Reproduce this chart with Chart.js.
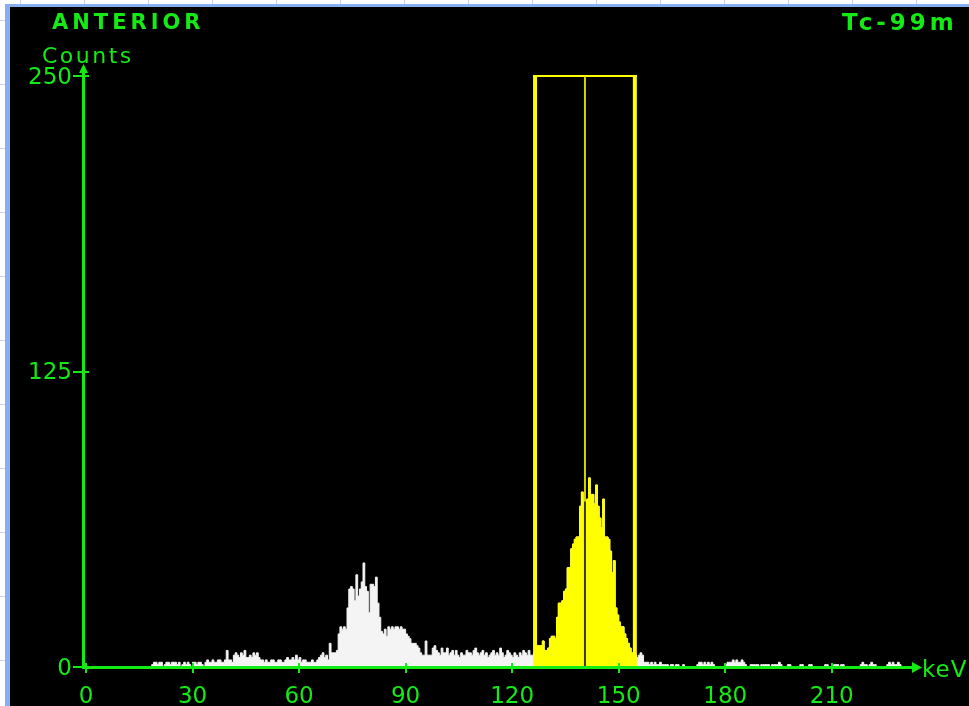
<!DOCTYPE html>
<html>
<head>
<meta charset="utf-8">
<script src="https://cdn.jsdelivr.net/npm/chart.js@4.4.1/dist/chart.umd.min.js"></script>
<style>
  html, body { margin: 0; padding: 0; }
  body {
    width: 969px; height: 706px; overflow: hidden; position: relative;
    background-color: #ffffff;
    background-image:
      repeating-linear-gradient(to right, transparent 0px, transparent 20px, #c6d2ea 20px, #c6d2ea 21px, transparent 21px, transparent 64px),
      repeating-linear-gradient(to bottom, transparent 0px, transparent 20px, #c6d2ea 20px, #c6d2ea 21px, transparent 21px, transparent 64px);
  }
  #panel {
    position: absolute; left: 5px; top: 4px; width: 964px; height: 702px;
    border-left: 5px solid #86aef0; border-top: 3px solid #86aef0;
    background: #000; box-sizing: border-box;
  }
  canvas { position: absolute; left: 10px; top: 7px; }
</style>
</head>
<body>
<div id="panel"></div>
<canvas id="c" width="959" height="699"></canvas>
<script>
// ---------------- data ----------------
const title = "ANTERIOR";
const isotope = "Tc-99m";
const yAxisTitle = "Counts";
const xAxisTitle = "keV";
const xTicks = [0, 30, 60, 90, 120, 150, 180, 210];
const yTicks = [0, 125, 250];
const binStart = 18;      // keV of first channel
const binWidth = 0.5;     // keV per channel
const photopeak = 140.5;  // keV
const windowLow = 126.45; // keV
const windowHigh = 154.55;// keV
// counts per 0.5 keV channel, 18.0 .. 231.5 keV (two per keV)
const counts = [
  0,0, 1,2, 2,1, 2,2, 0,1, 2,2, 1,2, 2,2, 1,2, 0,1,          // 18-27
  2,1, 2,1, 0,2, 2,1, 2,2, 1,0, 2,3, 2,2, 3,2, 2,3,          // 28-37
  3,2, 2,3, 7,3, 3,2, 5,6, 5,4, 6,5, 7,4, 4,5, 4,6,          // 38-47
  5,6, 4,3, 3,2, 3,2, 2,3, 3,2, 2,3, 3,2, 2,3, 4,3,          // 48-57
  3,4, 3,5, 3,4, 2,3, 3,2, 2,2, 3,2, 2,3, 4,5, 6,4,          // 58-67
  5,3, 10,6, 6,6, 7,14, 17,16, 17,16, 25,33, 34,33, 28,39, 30,33, // 68-77
  36,44, 34,32, 23,35, 35,34, 38,27, 21,15, 14,16, 13,17, 16,17, 16,17, // 78-87
  17,16, 17,16, 16,14, 13,12, 10,10, 10,9, 8,6, 5,5, 11,5, 5,5,  // 88-97
  8,9, 7,6, 5,8, 6,6, 8,5, 6,7, 5,7, 5,4, 6,5, 5,7,          // 98-107
  6,6, 5,7, 8,6, 5,6, 7,5, 6,4, 5,6, 7,5, 6,5, 8,6,          // 108-117
  4,5, 7,6, 5,4, 6,5, 4,6, 5,7, 6,5, 7,5, 5,6, 8,9,          // 118-127
  9,9, 11,7, 7,8, 12,13, 13,12, 21,27, 27,28, 32,33, 42,42, 50,52, // 128-137
  54,55, 55,68, 74,70, 70,71, 80,73, 73,69, 77,68, 63,59, 71,55, 55,54, // 138-147
  49,40, 45,25, 22,19, 17,17, 14,12, 10,8, 6,5, 5,4, 5,6, 5,2, // 148-157
  2,2, 1,2, 1,2, 1,1, 2,1, 1,1, 1,0, 1,1, 0,1, 1,0,          // 158-167
  0,1, 0,0, 0,0, 0,0, 0,1, 2,2, 1,2, 1,2, 1,2, 1,0,          // 168-177
  0,0, 0,0, 0,1, 2,2, 2,3, 2,3, 2,2, 3,2, 1,0, 0,1,          // 178-187
  1,1, 1,1, 0,1, 1,1, 1,1, 0,1, 1,1, 1,2, 1,0, 0,0,          // 188-197
  1,1, 0,0, 0,0, 0,1, 1,0, 0,0, 1,1, 0,0, 0,0, 0,0,          // 198-207
  0,1, 1,0, 0,0, 1,1, 1,0, 1,1, 0,0, 0,0, 0,0, 0,0,          // 208-217
  0,1, 2,1, 1,0, 1,2, 1,1, 0,0, 0,0, 0,0, 1,2, 1,2,          // 218-227
  1,1, 2,1, 0,0, 0,0                                         // 228-231
];

// ---------------- build datasets ----------------
const energyOf = i => binStart + i * binWidth;
const countAt = e => counts[Math.floor((e - binStart) / binWidth)] || 0;

const spectrum = counts.map((c, i) => ({ x: energyOf(i), y: c }));
spectrum.push({ x: energyOf(counts.length), y: 0 });

const windowPts = [{ x: windowLow, y: countAt(windowLow) }];
counts.forEach((c, i) => {
  const e = energyOf(i);
  if (e > windowLow && e < windowHigh) windowPts.push({ x: e, y: c });
});
windowPts.push({ x: windowHigh, y: 0 });

const GREEN = '#14ea14';
const YELLOW = '#ffff00';

const overlay = {
  id: 'overlay',
  afterDatasetsDraw(chart) {
    const ctx = chart.ctx;
    const xs = chart.scales.x, ys = chart.scales.y;
    const x0 = xs.getPixelForValue(0);
    const y0 = ys.getPixelForValue(0);
    const yTop = ys.getPixelForValue(yTicks[yTicks.length - 1]);
    ctx.save();
    // energy window
    const xl = xs.getPixelForValue(windowLow), xr = xs.getPixelForValue(windowHigh);
    const xc = xs.getPixelForValue(photopeak);
    const yPk = ys.getPixelForValue(countAt(photopeak));
    ctx.fillStyle = YELLOW;
    ctx.fillRect(xl - 2, yTop - 1, 4, y0 - yTop + 1);
    ctx.fillRect(xr - 2, yTop - 1, 4, y0 - yTop + 1);
    ctx.fillRect(xl - 2, yTop - 1, xr - xl + 4, 2);
    ctx.fillStyle = '#d4d400';
    ctx.fillRect(xc - 1, yTop, 2, yPk - yTop);
    ctx.fillStyle = '#3a3a00';
    ctx.fillRect(xc - 1, yPk, 2, y0 - yPk);

    // axes
    ctx.fillStyle = GREEN;
    const ax = x0 - 3;
    const xEnd = xs.getPixelForValue(xs.max) + 2;
    ctx.fillRect(ax - 1, yTop - 8, 3, y0 - yTop + 10);
    ctx.fillRect(ax - 1, y0 - 1, xEnd - ax, 3);
    // arrow heads
    ctx.beginPath();
    ctx.moveTo(ax + 0.5, yTop - 12);
    ctx.lineTo(ax - 4, yTop - 3);
    ctx.lineTo(ax + 5, yTop - 3);
    ctx.closePath(); ctx.fill();
    ctx.beginPath();
    ctx.moveTo(xEnd + 3, y0 + 0.5);
    ctx.lineTo(xEnd - 7, y0 - 5);
    ctx.lineTo(xEnd - 7, y0 + 6);
    ctx.closePath(); ctx.fill();
    // tick marks
    xTicks.forEach(v => {
      const px = Math.round(xs.getPixelForValue(v));
      ctx.fillRect(px - 1, y0 - 4, 2, 10);
    });
    yTicks.forEach(v => {
      const py = Math.round(ys.getPixelForValue(v));
      ctx.fillRect(ax - 10, py - 1, 16, 2);
    });

    // texts
    ctx.fillStyle = GREEN;
    ctx.textBaseline = 'alphabetic';
    ctx.textAlign = 'left';
    ctx.font = 'bold 21px "DejaVu Sans"';
    if ('letterSpacing' in ctx) ctx.letterSpacing = '4px';
    ctx.fillText(title, 42, 22);
    ctx.font = 'bold 23px "DejaVu Sans"';
    if ('letterSpacing' in ctx) ctx.letterSpacing = '4px';
    ctx.fillText(isotope, 832, 23);
    ctx.font = '22px "DejaVu Sans"';
    if ('letterSpacing' in ctx) ctx.letterSpacing = '2.5px';
    ctx.fillText(yAxisTitle, 32, 56);
    ctx.font = '23px "DejaVu Sans"';
    if ('letterSpacing' in ctx) ctx.letterSpacing = '1px';
    ctx.fillText(xAxisTitle, xEnd + 3, y0 + 10);
    ctx.restore();
  }
};

new Chart(document.getElementById('c'), {
  type: 'line',
  data: {
    datasets: [
      {
        label: 'window', data: windowPts, order: 0,
        stepped: 'after', fill: 'origin',
        backgroundColor: YELLOW, borderColor: YELLOW, borderWidth: 1,
        pointRadius: 0, tension: 0
      },
      {
        label: 'spectrum', data: spectrum, order: 1,
        stepped: 'after', fill: 'origin',
        backgroundColor: '#f4f4f4', borderColor: '#f4f4f4', borderWidth: 1,
        pointRadius: 0, tension: 0
      }
    ]
  },
  options: {
    responsive: false,
    animation: false,
    events: [],
    layout: { padding: { left: 0, top: 69, right: 52, bottom: 0 } },
    plugins: { legend: { display: false }, tooltip: { enabled: false } },
    scales: {
      x: {
        type: 'linear', min: 0, max: 234,
        grid: { display: false }, border: { display: false },
        afterFit: s => { s.height = 39; },
        afterBuildTicks: s => { s.ticks = xTicks.map(v => ({ value: v })); },
        ticks: { color: GREEN, padding: 8, maxRotation: 0, autoSkip: false,
                 font: { family: 'DejaVu Sans', size: 23 } }
      },
      y: {
        type: 'linear', min: 0, max: 250,
        grid: { display: false }, border: { display: false },
        afterFit: s => { s.width = 76; },
        afterBuildTicks: s => { s.ticks = yTicks.map(v => ({ value: v })); },
        ticks: { color: GREEN, padding: 6, labelOffset: 2, autoSkip: false,
                 font: { family: 'DejaVu Sans', size: 23 } }
      }
    }
  },
  plugins: [overlay]
});
</script>
</body>
</html>
